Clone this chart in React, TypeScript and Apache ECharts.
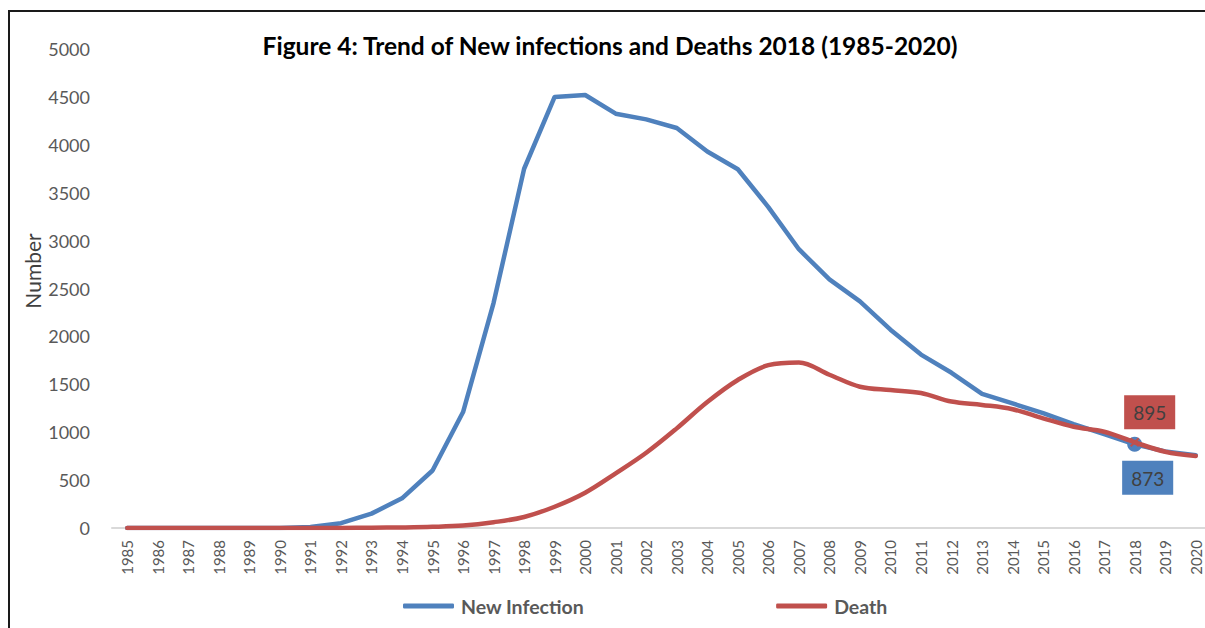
import React, { useEffect, useRef } from "react";
import * as echarts from "echarts";

const years = ["1985","1986","1987","1988","1989","1990","1991","1992","1993","1994","1995","1996","1997","1998","1999","2000","2001","2002","2003","2004","2005","2006","2007","2008","2009","2010","2011","2012","2013","2014","2015","2016","2017","2018","2019","2020"];
const newInfection = [0,0,0,0,0,0,10,50,150,310,600,1210,2350,3750,4500,4520,4325,4265,4175,3930,3745,3350,2910,2595,2365,2070,1810,1620,1400,1300,1200,1085,980,873,800,760];
const deaths = [0,0,0,0,0,0,0,1,3,6,12,25,60,115,222,368,570,785,1040,1315,1545,1700,1728,1600,1475,1440,1410,1320,1285,1240,1145,1057,1005,895,796,752];
const yTicks = { min: 0, max: 5000, interval: 500 };
const labelYear = "2018";
const titleText = "Figure 4: Trend of New infections and Deaths 2018 (1985-2020)";
const seriesNames = ["New Infection", "Death"];

const BLUE = "#4F81BD";
const RED = "#C0504D";
const FONT = "Lato, 'Noto Sans', sans-serif";

export default function App() {
  const ref = useRef<HTMLDivElement>(null);
  useEffect(() => {
    if (!ref.current) return;
    const chart = echarts.init(ref.current, null, { renderer: "svg" });
    const li = years.indexOf(labelYear);
    const boxLabel = (bg: string, position: string, distance: number, offset: number[]) => ({
      show: true,
      position,
      distance,
      offset,
      backgroundColor: bg,
      padding: [8, 9, 7, 9],
      color: "#404040",
      fontSize: 19,
      fontFamily: FONT,
    });
    const blueData = newInfection.map((v, i) =>
      i === li
        ? {
            value: v,
            symbol: "circle",
            symbolSize: 15,
            label: boxLabel(BLUE, "bottom", 9, [13, 0]),
          }
        : v
    );
    const redData = deaths.map((v, i) =>
      i === li
        ? {
            value: v,
            symbol: "path://M0,0 L10,10 M10,0 L0,10",
            symbolSize: 8,
            itemStyle: { color: RED, borderColor: RED, borderWidth: 2 },
            label: boxLabel(RED, "top", 8, [15, 0]),
          }
        : v
    );
    chart.setOption({
      animation: false,
      backgroundColor: "#ffffff",
      title: {
        text: titleText,
        left: 610,
        textAlign: "center",
        top: 33,
        padding: 0,
        textStyle: { fontFamily: FONT, fontWeight: "bold", fontSize: 24.5, color: "#000000" },
      },
      legend: {
        data: seriesNames,
        left: 403,
        top: 596,
        padding: 0,
        itemWidth: 51,
        itemHeight: 5,
        icon: "roundRect",
        itemGap: 192,
        textStyle: { fontFamily: FONT, fontWeight: "bold", fontSize: 19.5, color: "#595959", padding: [0, 0, 0, 2] },
      },
      grid: { left: 112, top: 49, width: 1099, height: 479, containLabel: false },
      xAxis: {
        type: "category",
        data: years,
        boundaryGap: true,
        axisLine: { show: true, lineStyle: { color: "#D9D9D9", width: 2 } },
        axisTick: { show: false },
        axisLabel: { rotate: 90, margin: 12, fontSize: 15, color: "#595959", fontFamily: FONT, interval: 0 },
        splitLine: { show: false },
      },
      yAxis: {
        type: "value",
        min: yTicks.min,
        max: yTicks.max,
        interval: yTicks.interval,
        axisLine: { show: false },
        axisTick: { show: false },
        splitLine: { show: false },
        axisLabel: { margin: 22, fontSize: 18, color: "#595959", fontFamily: FONT, formatter: (v: number) => String(v) },
      },
      series: [
        {
          name: seriesNames[0],
          type: "line",
          data: blueData,
          symbol: "none",
          lineStyle: { color: BLUE, width: 4.5, cap: "round", join: "round" },
          itemStyle: { color: BLUE },
          z: 2,
        },
        {
          name: seriesNames[1],
          type: "line",
          data: redData,
          symbol: "none",
          smooth: 0.35,
          lineStyle: { color: RED, width: 4.5, cap: "round", join: "round" },
          itemStyle: { color: RED },
          z: 3,
        },
      ],
      graphic: [
        {
          type: "polyline",
          shape: { points: [[9, 640], [9, 11], [1225, 11]] },
          style: { stroke: "#1a1a1a", lineWidth: 2, fill: "none" },
          silent: true,
        },
        {
          type: "text",
          x: 32,
          y: 271,
          rotation: Math.PI / 2,
          style: {
            text: "Number",
            fontFamily: FONT,
            fontSize: 21,
            fill: "#404040",
            textAlign: "center",
            textVerticalAlign: "middle",
          },
        },
      ],
    });
    return () => chart.dispose();
  }, []);
  return (
    <div style={{ position: "absolute", left: 0, top: 0, width: 1205, height: 628, overflow: "hidden" }}>
      <div ref={ref} style={{ position: "absolute", left: 0, top: 0, width: 1220, height: 628 }} />
    </div>
  );
}
